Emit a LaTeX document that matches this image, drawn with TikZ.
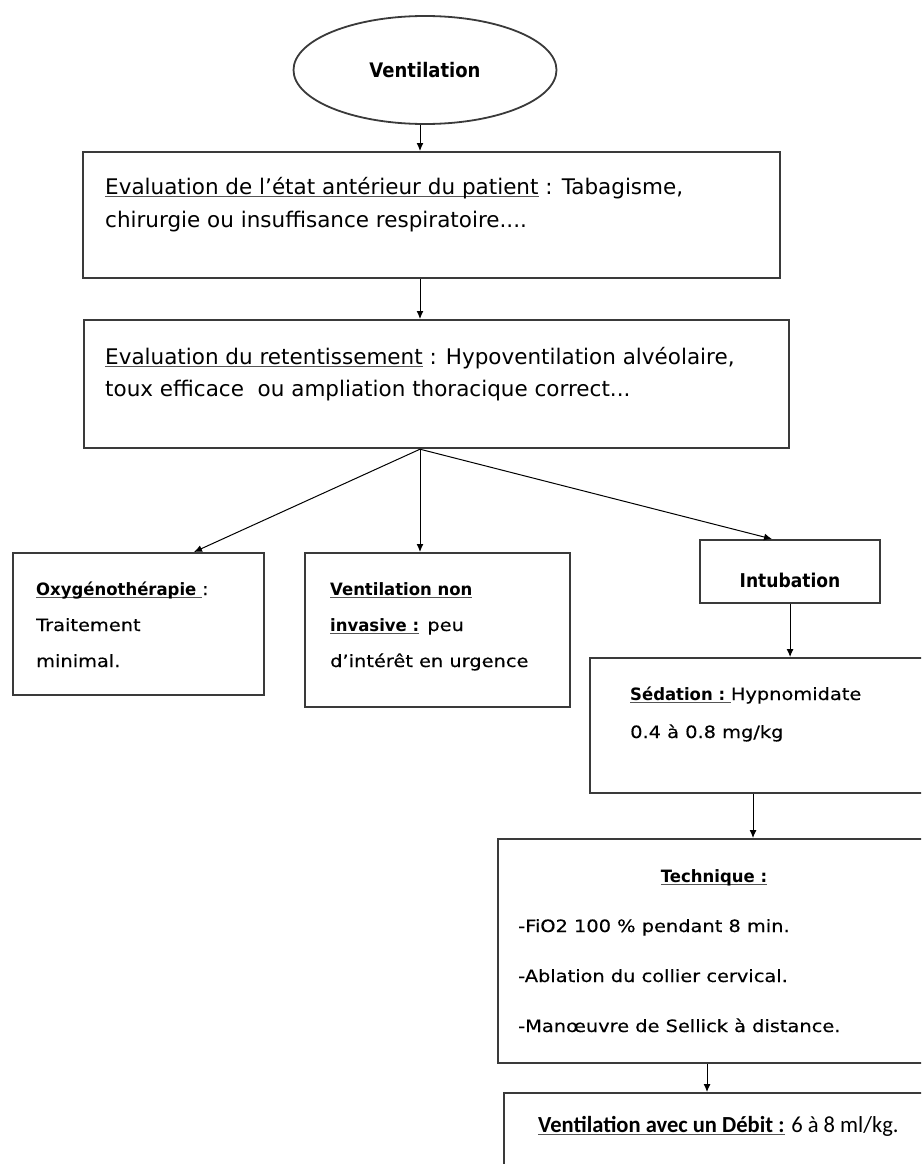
\documentclass[tikz,border=0pt]{standalone}
\usepackage{fontspec}
\usetikzlibrary{arrows.meta,shapes.geometric}

% Type faces
\newfontfamily\upfont{DejaVu Sans}
\newfontfamily\hdfont[FakeStretch=0.9]{DejaVu Sans}
\newfontfamily\loreg[FakeStretch=1.14,FakeBold=0.35]{DejaVu Sans}
\newfontfamily\lobf[FakeStretch=0.97]{DejaVu Sans}
\newfontfamily\calreg[FakeStretch=0.98]{Carlito}

\definecolor{boxgray}{HTML}{3A3A3A}
\definecolor{ulgray}{HTML}{555555}

\newcommand{\stack}[1]{\begin{tabular}[t]{@{}l@{}}#1\end{tabular}}
\newcommand{\lb}[1]{{\lobf\bfseries #1}}
% underlined run of text
\newlength\ulwd
\newcommand{\ulx}[1]{\settowidth{\ulwd}{#1}\rlap{\textcolor{ulgray}{\rule[-3pt]{\ulwd}{1.3pt}}}{#1}}

\begin{document}
\begin{tikzpicture}[x=1pt,y=-1pt,
  box/.style={draw=boxgray, line width=2.2pt, rectangle, inner sep=0pt, anchor=north west},
  arr/.style={-{Latex[length=8pt,width=7pt]}, line width=1pt, black},
  txt/.style={inner sep=0pt, anchor=base west},
  ctxt/.style={inner sep=0pt, anchor=base}]

\useasboundingbox (0,0) rectangle (921,1164);
\clip (0,0) rectangle (921,1164);
\fill[white] (0,0) rectangle (921,1164);

% start of the flow
\node[draw=boxgray, line width=1.8pt, ellipse, inner sep=0pt,
      minimum width=263pt, minimum height=108pt] (ell) at (425,70)
      {\hdfont\bfseries\fontsize{20}{24}\selectfont Ventilation};

% boxes
\node[box, minimum width=697pt, minimum height=126pt] (b1) at (82,151) {};
\node[box, minimum width=705pt, minimum height=128pt] (b2) at (83,319) {};
\node[box, minimum width=251pt, minimum height=142pt] (oxy) at (12,552) {};
\node[box, minimum width=265pt, minimum height=154pt] (vni) at (304,552) {};
\node[box, minimum width=180pt, minimum height=63pt]  (intub) at (699,539) {};
\node[box, minimum width=380pt, minimum height=135pt] (sed) at (589,657) {};
\node[box, minimum width=470pt, minimum height=224pt] (tech) at (497,838) {};
\node[box, minimum width=470pt, minimum height=120pt] (deb) at (503,1092) {};

% texts
\node[txt] (t1) at (105,194) {\upfont\fontsize{21.5}{33}\selectfont
  \stack{\ulx{Evaluation de l’état antérieur du patient} : Tabagisme,\\
         chirurgie ou insuffisance respiratoire....}};
\node[txt] (t2) at (105,364) {\upfont\fontsize{21.5}{32}\selectfont
  \stack{\ulx{Evaluation du retentissement} : Hypoventilation alvéolaire,\\
         toux efficace~ ou ampliation thoracique correct...}};
\node[ctxt] (ti) at (790,587) {\hdfont\bfseries\fontsize{19}{22}\selectfont Intubation};
\node[txt] (to) at (36,595) {\loreg\fontsize{17}{36}\selectfont
  \stack{\ulx{\lb{Oxygénothérapie\ }}:\\ Traitement\\ minimal.}};
\node[txt] (tv) at (330,595) {\loreg\fontsize{17}{36}\selectfont
  \stack{\ulx{\lb{Ventilation non}}\\ \ulx{\lb{invasive :}} peu\\ d’intérêt en urgence}};
\node[txt] (ts) at (630,700) {\loreg\fontsize{17}{38}\selectfont
  \stack{\ulx{\lb{Sédation :\ }}Hypnomidate\\ 0.4 à 0.8 mg/kg}};
\node[ctxt] (tth) at (714,882) {\loreg\fontsize{17}{20}\selectfont\ulx{\lb{Technique :}}};
\node[txt] (tt) at (518,932) {\loreg\fontsize{17}{50}\selectfont
  \stack{-FiO2 100 \% pendant 8 min.\\ -Ablation du collier cervical.\\ -Manœuvre de Sellick à distance.}};
\node[txt] (td) at (538,1132) {\calreg\fontsize{23}{26}\selectfont
  \ulx{\bfseries Ventilation avec un Débit :} 6 à 8 ml/kg.};

% columns of the connectors
\coordinate (spine) at (420,0);
\coordinate (xoxy) at (194,0);
\coordinate (xint) at (772,0);
\coordinate (xsed) at (753,0);
\coordinate (xtech) at (707,0);
\coordinate (hub) at (b2.south -| spine);

% connectors
\draw[arr] (ell.south -| spine) -- (b1.north -| spine);
\draw[arr] (b1.south -| spine) -- (b2.north -| spine);
\draw[arr] (hub) -- (oxy.north -| xoxy);
\draw[arr] (hub) -- (vni.north -| spine);
\draw[arr] (hub) -- (intub.north -| xint);
\draw[arr] (intub.south) -- (intub.south |- sed.north);
\draw[arr] (sed.south -| xsed) -- (tech.north -| xsed);
\draw[arr] (tech.south -| xtech) -- (deb.north -| xtech);
\end{tikzpicture}
\end{document}
